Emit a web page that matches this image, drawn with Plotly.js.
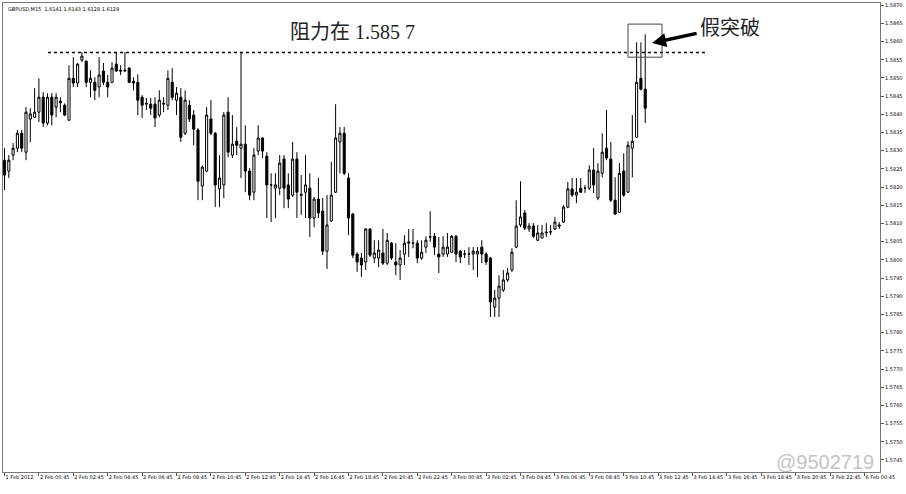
<!DOCTYPE html>
<html>
<head>
<meta charset="utf-8">
<script src="https://cdn.plot.ly/plotly-3.0.1.min.js"></script>
<style>html,body{margin:0;padding:0;background:#fff;}#chart{width:906px;height:494px;}</style>
</head>
<body>
<div id="chart"></div>
<script>
// GBPUSD M15 candles (open / high / low / close)
const opens = [
1.58274,1.58244,1.58288,1.58307,1.58348,1.58296,1.58387,1.58392,1.58406,1.58447,
1.58376,1.58447,1.58420,1.58436,1.58425,1.58384,1.58499,1.58486,1.58549,1.58546,
1.58488,1.58488,1.58475,1.58519,1.58488,1.58488,1.58538,1.58521,1.58519,1.58527,
1.58491,1.58488,1.58447,1.58428,1.58428,1.58428,1.58398,1.58428,1.58425,1.58488,
1.58439,1.58447,1.58348,1.58425,1.58398,1.58357,1.58203,1.58244,1.58387,1.58348,
1.58195,1.58206,1.58406,1.58288,1.58326,1.58307,1.58318,1.58244,1.58186,1.58299,
1.58335,1.58285,1.58206,1.58197,1.58197,1.58277,1.58206,1.58178,1.58277,1.58180,
1.58186,1.58197,1.58115,1.58167,1.58134,1.58024,1.58107,1.58186,1.58324,1.58348,
1.58225,1.58126,1.58016,1.58005,1.57994,1.58085,1.58005,1.58005,1.58019,1.57991,
1.58046,1.57994,1.57986,1.58016,1.58046,1.58046,1.58046,1.58005,1.58035,1.58063,
1.58065,1.58016,1.58016,1.58016,1.58021,1.58065,1.58024,1.58016,1.58016,1.58016,
1.58016,1.58035,1.58016,1.58005,1.57870,1.57895,1.57917,1.57945,1.57972,1.58035,
1.58096,1.58129,1.58085,1.58093,1.58054,1.58060,1.58074,1.58077,1.58085,1.58096,
1.58104,1.58145,1.58195,1.58178,1.58197,1.58197,1.58197,1.58247,1.58170,1.58238,
1.58307,1.58277,1.58164,1.58131,1.58244,1.58186,1.58307,1.58337,1.58499,1.58469
];
const highs = [
1.58307,1.58288,1.58321,1.58357,1.58357,1.58420,1.58417,1.58472,1.58499,1.58461,
1.58458,1.58458,1.58458,1.58447,1.58430,1.58535,1.58557,1.58541,1.58571,1.58549,
1.58521,1.58502,1.58557,1.58541,1.58508,1.58543,1.58571,1.58535,1.58571,1.58530,
1.58502,1.58510,1.58453,1.58445,1.58445,1.58447,1.58466,1.58447,1.58521,1.58527,
1.58475,1.58472,1.58466,1.58439,1.58412,1.58362,1.58260,1.58420,1.58439,1.58351,
1.58288,1.58406,1.58447,1.58398,1.58365,1.58571,1.58370,1.58252,1.58307,1.58370,
1.58337,1.58296,1.58238,1.58238,1.58288,1.58288,1.58238,1.58324,1.58296,1.58233,
1.58288,1.58238,1.58173,1.58225,1.58170,1.58178,1.58269,1.58428,1.58365,1.58365,
1.58238,1.58129,1.58021,1.58019,1.58087,1.58087,1.58054,1.58054,1.58085,1.58074,
1.58049,1.58046,1.58027,1.58068,1.58085,1.58085,1.58054,1.58054,1.58065,1.58134,
1.58074,1.58063,1.58065,1.58074,1.58068,1.58068,1.58027,1.58027,1.58035,1.58035,
1.58035,1.58054,1.58021,1.58008,1.57917,1.57958,1.57972,1.57978,1.58032,1.58164,
1.58216,1.58137,1.58101,1.58101,1.58096,1.58096,1.58101,1.58096,1.58118,1.58104,
1.58151,1.58214,1.58225,1.58225,1.58225,1.58206,1.58260,1.58307,1.58266,1.58348,
1.58412,1.58324,1.58227,1.58266,1.58293,1.58326,1.58398,1.58598,1.58598,1.58620
];
const lows = [
1.58192,1.58225,1.58274,1.58296,1.58296,1.58274,1.58324,1.58390,1.58379,1.58365,
1.58370,1.58370,1.58392,1.58406,1.58395,1.58382,1.58475,1.58475,1.58543,1.58475,
1.58447,1.58439,1.58447,1.58480,1.58447,1.58486,1.58516,1.58508,1.58516,1.58486,
1.58466,1.58398,1.58390,1.58412,1.58398,1.58365,1.58392,1.58406,1.58412,1.58439,
1.58398,1.58324,1.58343,1.58379,1.58315,1.58164,1.58164,1.58241,1.58343,1.58145,
1.58145,1.58170,1.58282,1.58280,1.58288,1.58225,1.58186,1.58164,1.58164,1.58288,
1.58280,1.58115,1.58104,1.58115,1.58178,1.58142,1.58142,1.58173,1.58115,1.58123,
1.58115,1.58063,1.58090,1.58115,1.58013,1.57975,1.58104,1.58184,1.58238,1.58233,
1.58068,1.58005,1.57967,1.57953,1.57972,1.58008,1.57991,1.57980,1.57986,1.57986,
1.58000,1.57958,1.57945,1.57986,1.58008,1.58032,1.57991,1.58000,1.58019,1.58049,
1.58013,1.57964,1.58008,1.58008,1.58019,1.57994,1.57991,1.58005,1.57986,1.57972,
1.57953,1.57991,1.57986,1.57843,1.57843,1.57843,1.57912,1.57940,1.57967,1.58032,
1.58090,1.58082,1.58077,1.58060,1.58052,1.58060,1.58063,1.58068,1.58082,1.58085,
1.58101,1.58142,1.58173,1.58156,1.58184,1.58184,1.58192,1.58184,1.58164,1.58227,
1.58274,1.58159,1.58123,1.58129,1.58173,1.58184,1.58227,1.58335,1.58466,1.58376
];
const closes = [
1.58233,1.58274,1.58307,1.58348,1.58307,1.58406,1.58401,1.58406,1.58447,1.58376,
1.58447,1.58398,1.58447,1.58432,1.58398,1.58499,1.58486,1.58538,1.58560,1.58488,
1.58499,1.58466,1.58508,1.58488,1.58475,1.58527,1.58519,1.58519,1.58521,1.58488,
1.58486,1.58439,1.58425,1.58430,1.58417,1.58390,1.58439,1.58430,1.58499,1.58447,
1.58458,1.58337,1.58439,1.58387,1.58359,1.58216,1.58255,1.58398,1.58348,1.58206,
1.58225,1.58398,1.58296,1.58318,1.58315,1.58318,1.58244,1.58178,1.58288,1.58335,
1.58299,1.58206,1.58206,1.58206,1.58266,1.58197,1.58167,1.58277,1.58186,1.58178,
1.58206,1.58115,1.58167,1.58129,1.58024,1.58096,1.58178,1.58335,1.58348,1.58238,
1.58115,1.58013,1.57994,1.57986,1.58085,1.58013,1.58019,1.58027,1.57991,1.58054,
1.58005,1.57986,1.58005,1.58046,1.58049,1.58046,1.58005,1.58021,1.58054,1.58063,
1.58035,1.58008,1.58035,1.58035,1.58065,1.58016,1.58008,1.58016,1.58016,1.58024,
1.58024,1.58016,1.57994,1.57884,1.57895,1.57928,1.57945,1.57964,1.58021,1.58093,
1.58118,1.58087,1.58093,1.58065,1.58074,1.58074,1.58076,1.58077,1.58104,1.58093,
1.58145,1.58195,1.58178,1.58186,1.58186,1.58197,1.58247,1.58206,1.58244,1.58296,
1.58280,1.58164,1.58126,1.58238,1.58178,1.58315,1.58326,1.58488,1.58469,1.58417
];
// time-axis labels, one every 8 bars (2 hours)
const tickLabels = ["1 Feb 2012","2 Feb 00:45","2 Feb 02:45","2 Feb 04:45","2 Feb 06:45","2 Feb 08:45",
"2 Feb 10:45","2 Feb 12:45","2 Feb 14:45","2 Feb 16:45","2 Feb 18:45","2 Feb 20:45","2 Feb 22:45",
"3 Feb 00:45","3 Feb 02:45","3 Feb 04:45","3 Feb 06:45","3 Feb 08:45","3 Feb 10:45","3 Feb 12:45",
"3 Feb 14:45","3 Feb 16:45","3 Feb 18:45","3 Feb 20:45","3 Feb 22:45","6 Feb 00:45"];
const barsPerTick = 8;
const resistance = 1.5857;
const headerText = "GBPUSD,M15  1.6141 1.6143 1.6128 1.6129";
const resistanceLabel = "阻力在 1.585 7";
const fakeBreakLabel = "假突破";
const watermark = "@9502719";

const xs = opens.map((_, i) => i);
const tickvals = tickLabels.map((_, k) => k * barsPerTick);

const trace = {
  type: 'candlestick', x: xs, open: opens, high: highs, low: lows, close: closes,
  increasing: {line: {color: '#000', width: 1}, fillcolor: '#fff'},
  decreasing: {line: {color: '#000', width: 1}, fillcolor: '#000'},
  whiskerwidth: 0, hoverinfo: 'skip', showlegend: false
};

const serif = 'Liberation Serif, Noto Sans CJK SC, serif';
const layout = {
  width: 906, height: 494,
  margin: {l: 3, r: 26, t: 3, b: 22},
  paper_bgcolor: '#fff', plot_bgcolor: '#fff',
  showlegend: false,
  xaxis: {
    type: 'linear', range: [-0.35, 203.6], rangeslider: {visible: false},
    tickvals: tickvals, ticktext: tickLabels, ticklabelposition: 'outside right',
    tickangle: 0, automargin: false,
    ticks: 'outside', ticklen: 3, tickcolor: '#555',
    tickfont: {family: 'DejaVu Sans', size: 5, color: '#000'},
    showgrid: false, zeroline: false, showline: true, linecolor: '#777', linewidth: 1, mirror: true
  },
  yaxis: {
    side: 'right', range: [1.57417, 1.58706], dtick: 0.0005, tick0: 1.5745, tickformat: '.4f',
    ticks: 'outside', ticklen: 3, tickcolor: '#555', automargin: false,
    tickfont: {family: 'DejaVu Sans', size: 5, color: '#000'},
    showgrid: false, zeroline: false, showline: true, linecolor: '#777', linewidth: 1, mirror: true
  },
  shapes: [
    {type: 'line', xref: 'x', yref: 'y', x0: 10.1, x1: 162.9, y0: resistance, y1: resistance,
     line: {color: '#000', width: 1.5, dash: 'dot'}},
    {type: 'rect', xref: 'x', yref: 'y', x0: 145.0, x1: 152.9, y0: 1.58557, y1: 1.58648,
     line: {color: '#444', width: 1}, fillcolor: 'rgba(0,0,0,0)'}
  ],
  annotations: [
    {xref: 'paper', yref: 'paper', x: 0.003, y: 0.997, xanchor: 'left', yanchor: 'top', showarrow: false,
     text: headerText, font: {family: 'DejaVu Sans', size: 5, color: '#000'}},
    {xref: 'x', yref: 'y', x: 81, y: 1.58626, xanchor: 'center', yanchor: 'middle', showarrow: false,
     text: resistanceLabel, font: {family: serif, size: 20, color: '#222'}},
    {xref: 'x', yref: 'y', x: 168.7, y: 1.58637, xanchor: 'center', yanchor: 'middle', showarrow: false,
     text: fakeBreakLabel, font: {family: serif, size: 20, color: '#222'}},
    {xref: 'x', yref: 'y', x: 150.6, y: 1.58596, ax: 46, ay: -10, showarrow: true,
     arrowhead: 2, arrowsize: 0.8, arrowwidth: 3.5, arrowcolor: '#000', text: ''},
    {xref: 'paper', yref: 'paper', x: 0.996, y: 0.021, xanchor: 'right', yanchor: 'middle', showarrow: false,
     text: watermark, font: {family: 'Liberation Sans', size: 20, color: '#c4c4c4'}}
  ]
};

Plotly.newPlot('chart', [trace], layout, {staticPlot: true, displayModeBar: false});
</script>
</body>
</html>
